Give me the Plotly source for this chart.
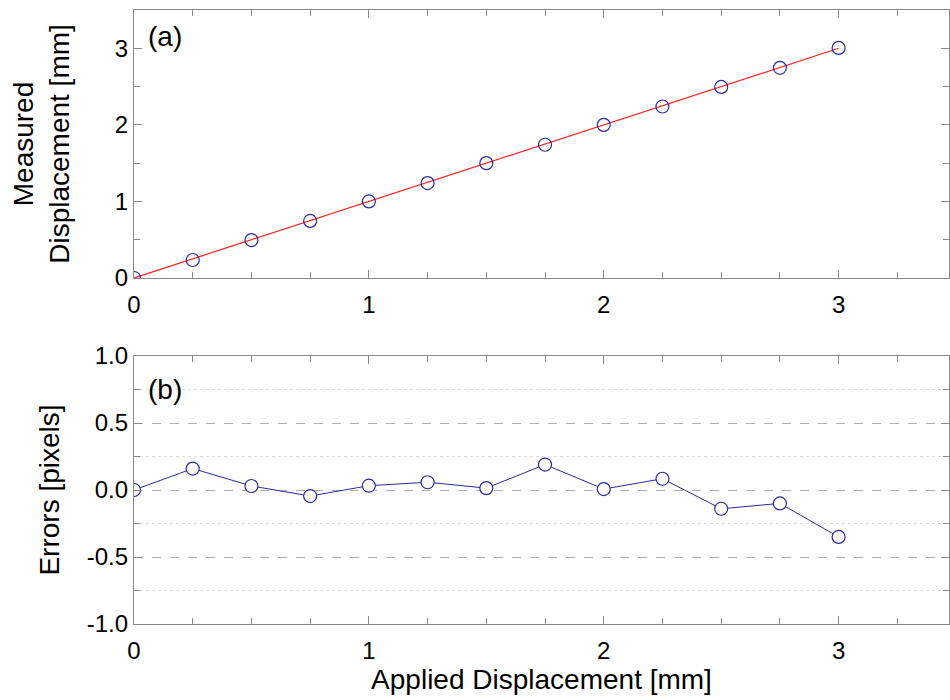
import plotly.graph_objects as go
from plotly.subplots import make_subplots

applied = [0, 0.25, 0.5, 0.75, 1.0, 1.25, 1.5, 1.75, 2.0, 2.25, 2.5, 2.75, 3.0]
measured = [0.0, 0.235, 0.495, 0.745, 1.0, 1.24, 1.5, 1.74, 2.0, 2.24, 2.495, 2.745, 3.005]
errors = [0.0, 0.16, 0.03, -0.045, 0.032, 0.058, 0.014, 0.19, 0.007, 0.084, -0.14, -0.10, -0.35]
fit_x = [0, 3]
fit_y = [0, 3]
err_ticks = [-1.0, -0.5, 0.0, 0.5, 1.0]
err_ticktext = ["-1.0", "-0.5", "0.0", "0.5", "1.0"]
err_minor = [-0.75, -0.25, 0.25, 0.75]

blue = "#2a2aa0"
axcol = "#8a8a8a"
font = "Liberation Sans, Arial, sans-serif"

fig = make_subplots(rows=2, cols=1)

fig.add_trace(go.Scatter(x=fit_x, y=fit_y, mode="lines",
                         line=dict(color="#ff2020", width=1.2), showlegend=False), row=1, col=1)
fig.add_trace(go.Scatter(x=applied, y=measured, mode="markers",
                         marker=dict(symbol="circle-open", size=13, color=blue, line=dict(width=1.2)),
                         showlegend=False, cliponaxis=True), row=1, col=1)
fig.add_trace(go.Scatter(x=applied, y=errors, mode="lines+markers",
                         line=dict(color=blue, width=1),
                         marker=dict(symbol="circle", size=13, color="white", line=dict(width=1.2, color=blue)),
                         showlegend=False, cliponaxis=True), row=2, col=1)

tickfont = dict(size=24, color="black", family=font)
titlefont = dict(size=28, color="black", family=font)

xcommon = dict(range=[0, 3.47], dtick=1, tick0=0, showline=True, linecolor=axcol, linewidth=1.2,
               mirror="ticks", ticks="inside", ticklen=8, tickcolor=axcol, tickwidth=1.2,
               showgrid=False, zeroline=False, domain=[0, 1], automargin=False,
               tickfont=tickfont, ticklabelstandoff=5,
               minor=dict(dtick=0.25, ticks="inside", ticklen=6, tickcolor=axcol, tickwidth=1, showgrid=False))

fig.update_xaxes(**xcommon, row=1, col=1)
fig.update_xaxes(**xcommon, row=2, col=1)
fig.update_xaxes(title=dict(text="Applied Displacement [mm]", font=titlefont, standoff=4),
                 row=2, col=1)

fig.update_yaxes(range=[0, 3.5], dtick=1, tick0=0, showline=True, linecolor=axcol, linewidth=1.2,
                 mirror="ticks", ticks="inside", ticklen=8, tickcolor=axcol, tickwidth=1.2,
                 showgrid=False, zeroline=False, domain=[1 - 268/614, 1], automargin=False,
                 tickfont=tickfont,
                 minor=dict(dtick=0.5, ticks="inside", ticklen=6, tickcolor=axcol, tickwidth=1),
                 title=dict(text="Measured<br>Displacement [mm]", font=titlefont, standoff=36),
                 row=1, col=1)

fig.update_yaxes(range=[-1, 1], tickvals=err_ticks, ticktext=err_ticktext, showline=True,
                 linecolor=axcol, linewidth=1.2,
                 mirror="ticks", ticks="inside", ticklen=8, tickcolor=axcol, tickwidth=1.2,
                 showgrid=True, gridcolor="#b0b0b0", griddash="dash", gridwidth=1, zeroline=False,
                 domain=[0, 1 - 346/614], automargin=False,
                 tickfont=tickfont,
                 minor=dict(tickmode="array", tickvals=err_minor, ticks="inside", ticklen=6,
                            tickcolor=axcol, tickwidth=1,
                            showgrid=True, gridcolor="#dddddd", griddash="dot", gridwidth=1),
                 title=dict(text="Errors [pixels]", font=titlefont, standoff=18),
                 row=2, col=1)

fig.add_annotation(text="(a)", xref="x domain", yref="y domain", x=0.015, y=0.965,
                   xanchor="left", yanchor="top", showarrow=False,
                   font=titlefont, row=1, col=1)
fig.add_annotation(text="(b)", xref="x2 domain", yref="y2 domain", x=0.015, y=0.94,
                   xanchor="left", yanchor="top", showarrow=False,
                   font=titlefont, row=2, col=1)

fig.update_layout(width=950, height=700, margin=dict(l=134, r=1, t=10, b=76),
                  paper_bgcolor="white", plot_bgcolor="white",
                  font=dict(family=font, color="black"))

fig.write_html("out.html")
